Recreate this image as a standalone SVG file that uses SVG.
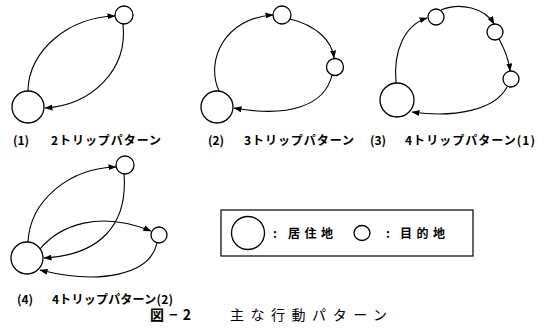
<svg xmlns="http://www.w3.org/2000/svg" width="544" height="332" viewBox="0 0 544 332">
<defs>
<marker id="ah" markerUnits="userSpaceOnUse" markerWidth="8" markerHeight="6" refX="7.5" refY="3" orient="auto">
<path d="M0,0 L8,3 L0,6 z" fill="#000"/>
</marker>
<style>
.n{fill:#fff;stroke:#000;stroke-width:1.3}
.e{fill:none;stroke:#000;stroke-width:1.1;marker-end:url(#ah)}
.lb{font-family:"Noto Sans CJK JP","Noto Sans",sans-serif;font-weight:bold;font-size:12px;fill:#000}
.cap{font-family:"Noto Sans CJK JP","Noto Sans",sans-serif;font-size:14px;fill:#000}
</style>
</defs>
<rect width="544" height="332" fill="#fff"/>
<g id="connectors">
<path class="e" d="M28,91 C28,50 70,17 115,16"/>
<path class="e" d="M123,24 C128,70 92,105 45,108"/>
<path class="e" d="M219,91 C205,60 225,18 273,15"/>
<path class="e" d="M290,19 C315,25 332,40 334,58"/>
<path class="e" d="M332,75 C325,105 290,118 234,108"/>
<path class="e" d="M396,83 C393,50 405,25 427,18"/>
<path class="e" d="M441,10 C460,2 485,8 494,24"/>
<path class="e" d="M499,39 C505,50 509,60 510,71"/>
<path class="e" d="M507,87 C495,110 455,118 412,112"/>
<path class="e" d="M28,242 C30,200 70,168 116,167"/>
<path class="e" d="M124,174 C128,225 100,255 44,258"/>
<path class="e" d="M40,249 C60,225 100,210 151,231"/>
<path class="e" d="M157,243 C150,275 100,285 40,270"/>
</g>
<g id="p1-home"><circle class="n" cx="28" cy="107" r="16"/></g>
<g id="p1-d1"><circle class="n" cx="124" cy="15" r="9"/></g>
<g id="p2-home"><circle class="n" cx="217" cy="107" r="16"/></g>
<g id="p2-d1"><circle class="n" cx="282" cy="15" r="9"/></g>
<g id="p2-d2"><circle class="n" cx="335" cy="67" r="8.5"/></g>
<g id="p3-home"><circle class="n" cx="397" cy="100" r="17"/></g>
<g id="p3-d1"><circle class="n" cx="436" cy="17" r="8"/></g>
<g id="p3-d2"><circle class="n" cx="495" cy="32" r="8"/></g>
<g id="p3-d3"><circle class="n" cx="511" cy="79" r="8"/></g>
<g id="p4-home"><circle class="n" cx="27" cy="258" r="16"/></g>
<g id="p4-d1"><circle class="n" cx="125" cy="165" r="9"/></g>
<g id="p4-d2"><circle class="n" cx="159" cy="235" r="8"/></g>
<g id="labels">
<text class="lb" x="13" y="145">(1)</text>
<text class="lb" x="51" y="145" textLength="110" lengthAdjust="spacing">2トリップパターン</text>
<text class="lb" x="208" y="145">(2)</text>
<text class="lb" x="244" y="145" textLength="110" lengthAdjust="spacing">3トリップパターン</text>
<text class="lb" x="370" y="145">(3)</text>
<text class="lb" x="405" y="145" textLength="130" lengthAdjust="spacing">4トリップパターン(1)</text>
<text class="lb" x="17" y="304">(4)</text>
<text class="lb" x="52" y="304" textLength="121" lengthAdjust="spacing">4トリップパターン(2)</text>
</g>
<g id="legend">
<rect x="221" y="210" width="252" height="46" fill="none" stroke="#000" stroke-width="1.2"/>
<circle class="n" cx="248" cy="233" r="16.5"/>
<text class="lb" x="273" y="238" font-size="13">:</text>
<text class="lb" x="288" y="238" font-size="13" textLength="45">居住地</text>
<ellipse class="n" cx="362" cy="233" rx="8" ry="7.5"/>
<text class="lb" x="386" y="238" font-size="13">:</text>
<text class="lb" x="400" y="238" font-size="13" textLength="45">目的地</text>
</g>
<g id="caption">
<text class="cap" x="150" y="320" font-weight="bold" textLength="41" lengthAdjust="spacing">図−2</text>
<text class="cap" x="230" y="320" textLength="157" lengthAdjust="spacing">主な行動パターン</text>
</g>
</svg>
